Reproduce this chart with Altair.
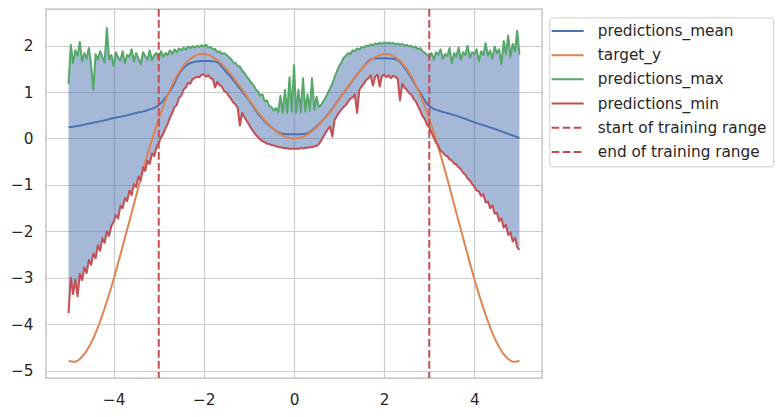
import altair as alt
import pandas as pd

# ---------------- data ----------------
# noisy series sampled every 0.05 from -5 to 5 (201 values)
pred_max = [
    1.18, 2.02, 1.62, 1.90, 1.78, 2.08, 1.66, 1.84, 1.72, 1.95, 1.60, 1.05, 1.82, 1.70, 1.88, 1.76, 1.64, 2.38, 1.70, 1.80,
    1.56, 1.86, 1.74, 1.68, 1.88, 1.62, 1.80, 1.76, 1.92, 1.66, 1.84, 1.72, 1.60, 1.86, 1.78, 1.70, 1.90, 1.68, 1.80, 1.84,
    1.70, 1.88, 1.76, 1.84, 1.80, 1.90, 1.82, 1.92, 1.86, 1.94, 1.90, 1.96, 1.92, 1.98, 1.95, 1.99, 1.96, 2.00, 1.97, 2.01,
    1.98, 2.02, 1.96, 1.97, 1.92, 1.93, 1.86, 1.88, 1.82, 1.84, 1.80, 1.76, 1.72, 1.64, 1.63, 1.56, 1.55, 1.46, 1.42, 1.33,
    1.28, 1.20, 1.16, 1.06, 1.02, 0.92, 0.95, 0.80, 0.82, 0.70, 0.68, 0.60, 0.66, 0.57, 0.92, 0.56, 1.05, 0.55, 1.32, 0.58,
    1.58, 0.56, 1.05, 0.56, 1.30, 0.58, 0.95, 0.60, 1.30, 0.62, 0.90, 0.68, 0.72, 0.80, 0.88, 0.98, 1.08, 1.18, 1.32, 1.44,
    1.56, 1.64, 1.74, 1.78, 1.84, 1.82, 1.90, 1.88, 1.94, 1.92, 1.97, 1.96, 2.00, 1.99, 2.03, 2.01, 2.05, 2.03, 2.06, 2.04,
    2.07, 2.05, 2.07, 2.04, 2.06, 2.03, 2.05, 2.02, 2.04, 2.00, 2.02, 1.98, 2.00, 1.96, 1.98, 1.92, 1.95, 1.88, 1.85, 1.80,
    1.76, 1.84, 1.70, 1.86, 1.80, 1.92, 1.72, 1.82, 1.78, 1.95, 1.62, 1.84, 1.76, 1.96, 1.70, 1.86, 1.80, 2.00, 1.74, 1.86,
    1.82, 1.92, 1.66, 1.88, 1.80, 2.05, 1.78, 1.90, 1.72, 1.98, 1.84, 1.92, 1.60, 2.10, 1.82, 2.22, 1.76, 2.04, 1.88, 2.32,
    1.80,
]
pred_min = [
    -3.76, -3.00, -3.35, -3.05, -3.40, -2.92, -3.05, -2.78, -2.90, -2.62, -2.72, -2.48, -2.58, -2.30, -2.42, -2.15, -2.25, -2.00, -2.10, -1.88,
    -1.80, -1.65, -1.72, -1.45, -1.50, -1.28, -1.35, -1.12, -1.22, -0.98, -1.05, -0.82, -0.90, -0.62, -0.70, -0.48, -0.55, -0.32, -0.38, -0.18,
    -0.10, 0.02, 0.10, 0.22, 0.32, 0.45, 0.55, 0.68, 0.72, 0.88, 0.92, 1.05, 1.10, 1.20, 1.18, 1.28, 1.30, 1.33, 1.32, 1.37,
    1.38, 1.33, 1.36, 1.30, 1.28, 1.10, 1.22, 1.15, 1.12, 1.02, 1.00, 0.92, 0.86, 0.78, 0.74, 0.66, 0.28, 0.55, 0.46, 0.38,
    0.30, 0.22, 0.15, 0.08, 0.03, -0.02, -0.06, -0.08, -0.11, -0.12, -0.14, -0.15, -0.17, -0.18, -0.19, -0.20, -0.21, -0.21, -0.22, -0.22,
    -0.22, -0.22, -0.22, -0.21, -0.21, -0.20, -0.20, -0.19, -0.19, -0.17, -0.16, -0.12, -0.05, 0.04, 0.12, 0.20, 0.26, 0.04, 0.40, 0.48,
    0.56, 0.62, 0.68, 0.72, 0.80, 0.86, 0.88, 0.95, 0.55, 1.05, 1.12, 1.18, 1.26, 1.30, 1.36, 1.14, 1.33, 1.38, 1.12, 1.34,
    1.38, 1.32, 1.36, 1.30, 1.35, 1.33, 1.28, 0.82, 1.18, 1.10, 1.05, 0.98, 0.95, 0.86, 0.80, 0.70, 0.60, 0.48, 0.42, 0.30,
    0.24, 0.12, 0.02, -0.09, -0.16, -0.26, -0.30, -0.36, -0.38, -0.45, -0.47, -0.54, -0.56, -0.62, -0.66, -0.74, -0.78, -0.86, -0.90, -0.98,
    -1.04, -1.12, -1.14, -1.24, -1.20, -1.38, -1.36, -1.50, -1.44, -1.62, -1.60, -1.78, -1.72, -1.92, -1.86, -2.08, -2.02, -2.22, -2.14, -2.34,
    -2.40,
]
noisy_x = [round(-5 + 0.05 * i, 2) for i in range(len(pred_max))]

# predictions_mean sampled every 0.25 from -5 to 5 (41 values)
pred_mean = [
    0.24, 0.28, 0.33, 0.38, 0.44, 0.49, 0.55, 0.61, 0.72, 1.02, 1.46, 1.64, 1.67, 1.66, 1.43, 1.14, 0.82, 0.48, 0.24, 0.10,
    0.09,
    0.10, 0.26, 0.52, 0.85, 1.18, 1.50, 1.72, 1.73, 1.71, 1.46, 1.06, 0.70, 0.59, 0.52, 0.44, 0.35, 0.27, 0.19, 0.10, 0.01,
]
mean_x = [round(-5 + 0.25 * i, 3) for i in range(len(pred_mean))]

# target_y sampled every 0.125 from -5 to 5 (81 values)
target_y = [
    -4.79, -4.81, -4.75, -4.61, -4.40, -4.13, -3.80, -3.43, -3.03, -2.59, -2.14, -1.69, -1.23, -0.78, -0.35, 0.05, 0.42, 0.76, 1.05, 1.30,
    1.50, 1.65, 1.75, 1.81, 1.82, 1.79, 1.72, 1.62, 1.50, 1.35, 1.19, 1.02, 0.84, 0.67, 0.51, 0.37, 0.24, 0.14, 0.06, 0.02,
    0.00,
    0.02, 0.06, 0.14, 0.24, 0.37, 0.51, 0.67, 0.84, 1.02, 1.19, 1.35, 1.50, 1.62, 1.72, 1.79, 1.82, 1.81, 1.75, 1.65, 1.50,
    1.30, 1.05, 0.76, 0.42, 0.05, -0.35, -0.78, -1.23, -1.69, -2.14, -2.59, -3.03, -3.43, -3.80, -4.13, -4.40, -4.61, -4.75, -4.81, -4.79,
]
target_x = [round(-5 + 0.125 * i, 3) for i in range(len(target_y))]

range_names = ["start of training range", "end of training range"]
range_x = [-3, 3]

series_names = ["predictions_mean", "target_y", "predictions_max", "predictions_min"] + range_names
series_colors = ["#4c72b0", "#dd8452", "#55a868", "#c44e52", "#c44e52", "#c44e52"]
series_dash = [[1, 0], [1, 0], [1, 0], [1, 0], [7.7, 3.3], [7.7, 3.3]]

# ---------------- tables ----------------
band = pd.DataFrame({"x": noisy_x, "ymax": pred_max, "ymin": pred_min})
mean_df = pd.DataFrame({"x": mean_x, "y": pred_mean, "series": "predictions_mean"})
target_df = pd.DataFrame({"x": target_x, "y": target_y, "series": "target_y"})
max_df = pd.DataFrame({"x": noisy_x, "y": pred_max, "series": "predictions_max"})
min_df = pd.DataFrame({"x": noisy_x, "y": pred_min, "series": "predictions_min"})
rules_df = pd.DataFrame({"x": range_x, "series": range_names})

FONT = "DejaVu Sans"
FS = 15.3

xscale = alt.Scale(domain=[-5.5, 5.5], nice=False, zero=False)
yscale = alt.Scale(domain=[-5.16, 2.79], nice=False, zero=False)

legend = alt.Legend(
    title=None,
    orient="none",
    legendX=503.3,
    legendY=8.3,
    symbolType="M-4,0H4",
    symbolSize=64,
    symbolStrokeWidth=2,
    symbolOffset=4.7,
    labelOffset=22.5,
    labelLimit=400,
    labelFont=FONT,
    labelFontSize=FS,
    labelColor="#262626",
    padding=6,
    rowPadding=8.2,
    strokeColor="#cccccc",
    fillColor="white",
    cornerRadius=3,
)

color = alt.Color("series:N", scale=alt.Scale(domain=series_names, range=series_colors), legend=legend)
dash = alt.StrokeDash("series:N", scale=alt.Scale(domain=series_names, range=series_dash), legend=legend)

xax = alt.Axis(values=[-4, -2, 0, 2, 4], title=None, labelPadding=14)
yax = alt.Axis(values=[-5, -4, -3, -2, -1, 0, 1, 2], title=None, labelPadding=13)

area = alt.Chart(band).mark_area(color="#4c72b0", opacity=0.5).encode(
    x=alt.X("x:Q", scale=xscale, axis=xax),
    y=alt.Y("ymax:Q", scale=yscale, axis=yax),
    y2="ymin:Q",
)


def line(df, interp):
    return alt.Chart(df).mark_line(strokeWidth=2, strokeJoin="round", interpolate=interp).encode(
        x=alt.X("x:Q", scale=xscale, axis=xax),
        y=alt.Y("y:Q", scale=yscale, axis=yax),
        color=color,
        strokeDash=dash,
    )


rules = alt.Chart(rules_df).mark_rule(strokeWidth=2).encode(
    x=alt.X("x:Q", scale=xscale, axis=xax),
    color=color,
    strokeDash=dash,
)

chart = alt.layer(
    area,
    line(mean_df, "monotone"),
    line(target_df, "monotone"),
    line(max_df, "linear"),
    line(min_df, "linear"),
    rules,
).properties(
    width=496,
    height=369,
    autosize=alt.AutoSizeParams(type="none"),
    padding={"left": 46, "top": 9, "right": 241, "bottom": 39},
    background="white",
).configure_view(
    stroke="#cccccc", strokeWidth=1.75
).configure_axis(
    grid=True,
    gridColor="#cccccc",
    gridWidth=1.2,
    domain=False,
    ticks=False,
    tickSize=0,
    labelFont=FONT,
    labelFontSize=FS,
    labelColor="#262626",
)

chart.save("out.html", embed_options={"renderer": "svg", "actions": False})
